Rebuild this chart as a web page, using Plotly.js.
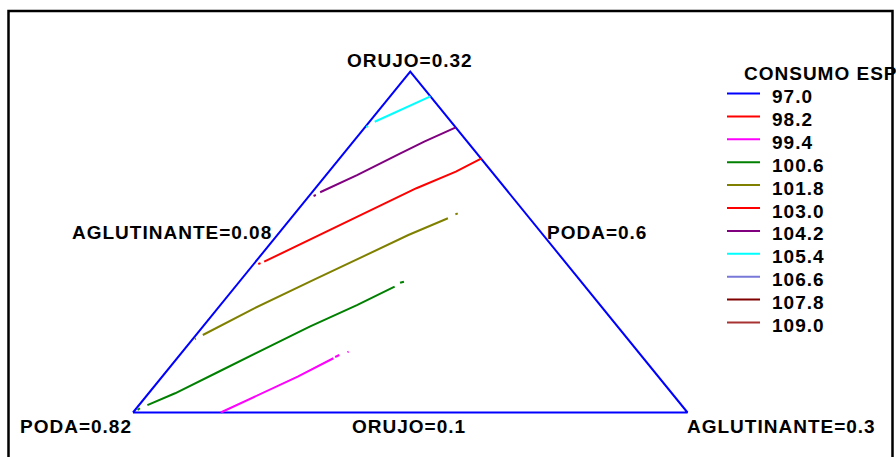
<!DOCTYPE html>
<html><head><meta charset="utf-8">
<script src="https://cdn.plot.ly/plotly-3.0.1.min.js"></script>
<style>html,body{margin:0;padding:0;background:#fff} .annotation-text{letter-spacing:1px}</style>
</head><body><div id="chart" style="width:896px;height:457px"></div>
<script>
// ---- legend (contour levels) ----
const legendTitle = 'CONSUMO ESP';
const levels = ['97.0','98.2','99.4','100.6','101.8','103.0','104.2','105.4','106.6','107.8','109.0'];
const levelColors = ['#0000FF','#FF0000','#FF00FF','#008000','#808000','#FF0000','#800080','#00FFFF','#7878D8','#800000','#A83232'];

// ---- vertex labels ----
const vertexLabels = ['ORUJO=0.32','AGLUTINANTE=0.08','PODA=0.6','PODA=0.82','ORUJO=0.1','AGLUTINANTE=0.3'];

// ---- triangle (ORUJO, AGLUTINANTE fractions; PODA = 1 - ORUJO - AGLUTINANTE) ----
const triOrujo = [0.10, 0.10, 0.32, 0.10];
const triAglut = [0.08, 0.30, 0.08, 0.08];

// ---- contour lines (null = gap) ----
const orujo_994 = [0.1000,0.1113,0.1231,0.1350,null,0.1358,0.1371,null,0.1390,0.1393];
const aglut_994 = [0.1148,0.1240,0.1338,0.1420,null,0.1423,0.1433,null,0.1456,0.1459];

const orujo_1006 = [0.1016,0.1027,null,0.1048,0.1124,0.1263,0.1392,0.1554,0.1693,0.1812,null,0.1837,0.1844];
const aglut_1006 = [0.0810,0.0814,null,0.0833,0.0905,0.1008,0.1101,0.1224,0.1342,0.1432,null,0.1441,0.1453];

const orujo_1018 = [0.1474,0.1478,null,0.1500,0.1672,0.1855,0.2027,0.2145,0.2253,null,0.2278,0.2285];
const aglut_1018 = [0.0808,0.0810,null,0.0827,0.0945,0.1089,0.1222,0.1320,0.1423,null,0.1440,0.1446];

const orujo_1030 = [0.1958,0.1964,null,0.1973,0.2113,0.2296,0.2447,0.2554,0.2640];
const aglut_1030 = [0.0818,0.0824,null,0.0834,0.0944,0.1088,0.1201,0.1304,0.1363];

const orujo_1042 = [0.2397,0.2403,null,0.2421,0.2532,0.2672,0.2747,0.2840];
const aglut_1042 = [0.0818,0.0824,null,0.0832,0.0923,0.1025,0.1082,0.1161];

const orujo_1054 = [0.2842,0.2848,null,0.2876,0.2952,0.3040];
const aglut_1054 = [0.0804,0.0809,null,0.0821,0.0883,0.0960];

// ---- helpers: mixture fractions -> triangle plane ----
function toX(o, a){ if(o===null||a===null) return null; const A=(o-0.1)/0.22, B=(a-0.08)/0.22; return B + A/2; }
function toY(o, a){ if(o===null||a===null) return null; return (o-0.1)/0.22; }
function line(os, as, color, name){
  return {type:'scatter', mode:'lines', x: os.map((o,i)=>toX(o,as[i])), y: os.map((o,i)=>toY(o,as[i])),
    line:{color:color, width:2}, connectgaps:false, showlegend:false, hoverinfo:'skip', name:name};
}

const W=896, H=457;
const PX = p => p/W, PY = p => 1 - p/H;

const traces = [
  line(triOrujo, triAglut, '#0000FF', 'frame'),
  line(orujo_994, aglut_994, levelColors[2], levels[2]),
  line(orujo_1006, aglut_1006, levelColors[3], levels[3]),
  line(orujo_1018, aglut_1018, levelColors[4], levels[4]),
  line(orujo_1030, aglut_1030, levelColors[5], levels[5]),
  line(orujo_1042, aglut_1042, levelColors[6], levels[6]),
  line(orujo_1054, aglut_1054, levelColors[7], levels[7])
];

const font = {family:'Liberation Sans, Arial, sans-serif', size:19, color:'#000', weight:700};
const labelPos = [[410,60],[172,232],[597,232],[76,426],[409,426],[781,426]];
const annotations = vertexLabels.map((t,i)=>({text:t, xref:'paper', yref:'paper', x:PX(labelPos[i][0]), y:PY(labelPos[i][1]),
  xanchor:'center', yanchor:'middle', showarrow:false, font:font}));

annotations.push({text:legendTitle, xref:'paper', yref:'paper', x:PX(742), y:PY(73), xanchor:'left', yanchor:'middle', showarrow:false, font:font});
const shapes = [
  {type:'rect', xref:'paper', yref:'paper', x0:PX(8.5), x1:PX(892.5), y0:-0.2, y1:PY(11), line:{color:'#000', width:2.5}, fillcolor:'rgba(0,0,0,0)'}
];
levels.forEach((lv,i)=>{
  const yy = 93.5 + i*22.9;
  shapes.push({type:'line', xref:'paper', yref:'paper', x0:PX(727), x1:PX(760), y0:PY(yy), y1:PY(yy), line:{color:levelColors[i], width:2}});
  annotations.push({text:lv, xref:'paper', yref:'paper', x:PX(770), y:PY(yy+3), xanchor:'left', yanchor:'middle', showarrow:false, font:font});
});

const layout = {
  width:W, height:H, margin:{l:0,r:0,t:0,b:0}, paper_bgcolor:'#fff', plot_bgcolor:'#fff', showlegend:false,
  xaxis:{range:[-133/554.5, (896-133)/554.5], visible:false, fixedrange:true},
  yaxis:{range:[(412.5-457)/341, 412.5/341], visible:false, fixedrange:true},
  shapes:shapes, annotations:annotations
};
Plotly.newPlot('chart', traces, layout, {staticPlot:true});
</script></body></html>
